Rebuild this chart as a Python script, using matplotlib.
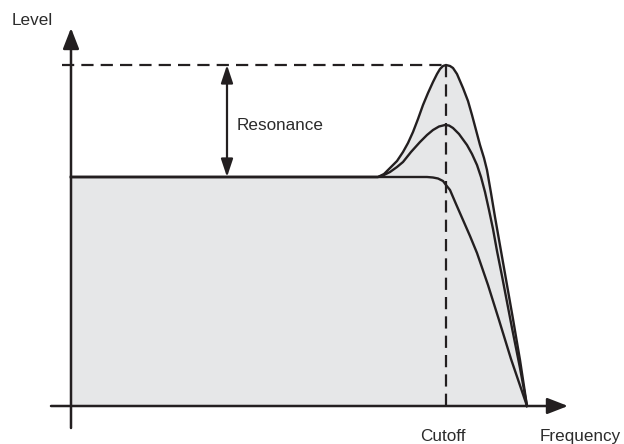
import matplotlib
matplotlib.use("Agg")
import matplotlib.pyplot as plt

plt.rcParams['font.family'] = ['Liberation Sans', 'DejaVu Sans']

# frequency / level points (arbitrary units)
flat_level = 229
peak_level = 341
cutoff = 375

high_f = [0, 307, 313, 319, 326, 332, 337, 342, 347, 352, 357, 362, 366, 369, 372, 375,
          379, 382, 386, 389, 392, 397, 401, 405, 409, 413, 416, 420, 424, 430, 436, 442, 449, 456]
high_l = [229, 229, 232, 238, 245, 254, 263, 274, 287, 301, 313, 324, 332, 337, 340, 341,
          340, 338, 332, 325, 318, 305, 291, 276, 261, 248, 236, 213, 189, 155, 121, 87, 46, 0]

mid_f = [0, 307, 313, 319, 326, 332, 340, 349, 356, 362, 368, 374, 378, 382, 388, 396,
         401, 406, 410, 414, 418, 422, 426, 431, 441, 449, 456]
mid_l = [229, 229, 231, 234, 239, 244, 254, 264, 271, 276, 279.5, 281, 280.5, 278, 272, 261,
         252, 241, 229, 214, 196, 177, 155, 130, 78, 38, 0]

low_f = [0, 349, 356, 362, 367, 372, 375, 379, 385, 392, 399, 406, 417, 428, 440, 456]
low_l = [229, 229, 229, 228.5, 227.5, 225, 221, 216, 202, 186, 170, 153, 121, 86, 47, 0]

ink = '#231f20'
txt = '#2b2b2b'

fig = plt.figure(figsize=(6.24, 4.44), dpi=100)
ax = fig.add_axes([0, 0, 1, 1])
ax.set_xlim(-71, 553)
ax.set_ylim(-38, 406)
ax.axis('off')

ax.fill_between(high_f, 0, high_l, color='#e6e7e8', lw=0, zorder=1)

for f, l in [(high_f, high_l), (mid_f, mid_l), (low_f, low_l)]:
    ax.plot(f, l, color=ink, lw=1.7, solid_joinstyle='round', zorder=3)

# dashed guides
ax.plot([-9, cutoff], [peak_level, peak_level], color=ink, lw=1.6, dashes=(5.5, 3.2), zorder=2)
ax.plot([cutoff, cutoff], [peak_level, -5], color=ink, lw=1.6, dashes=(5.5, 3.2), zorder=2)

# axes with arrows
ax.annotate('', xy=(0, 378), xytext=(0, -22),
            arrowprops=dict(arrowstyle='-|>,head_length=0.9,head_width=0.35', color=ink, lw=1.8,
                            shrinkA=0, shrinkB=0, mutation_scale=14), zorder=4)
ax.annotate('', xy=(497, 0), xytext=(-20, 0),
            arrowprops=dict(arrowstyle='-|>,head_length=0.9,head_width=0.35', color=ink, lw=1.8,
                            shrinkA=0, shrinkB=0, mutation_scale=14), zorder=4)

# resonance arrow
ax.annotate('', xy=(156, peak_level), xytext=(156, flat_level),
            arrowprops=dict(arrowstyle='<|-|>,head_length=0.9,head_width=0.3', color=ink, lw=1.6,
                            shrinkA=0, shrinkB=0, mutation_scale=12), zorder=4)

fs = 12.3
ax.text(166, 276, 'Resonance', fontsize=fs, color=txt, va='baseline', ha='left')
ax.text(-59, 381, 'Level', fontsize=fs, color=txt, va='baseline', ha='left')
ax.text(cutoff - 3, -35, 'Cutoff', fontsize=fs, color=txt, va='baseline', ha='center')
ax.text(469, -35, 'Frequency', fontsize=fs, color=txt, va='baseline', ha='left')

fig.savefig('out.png', dpi=100)
